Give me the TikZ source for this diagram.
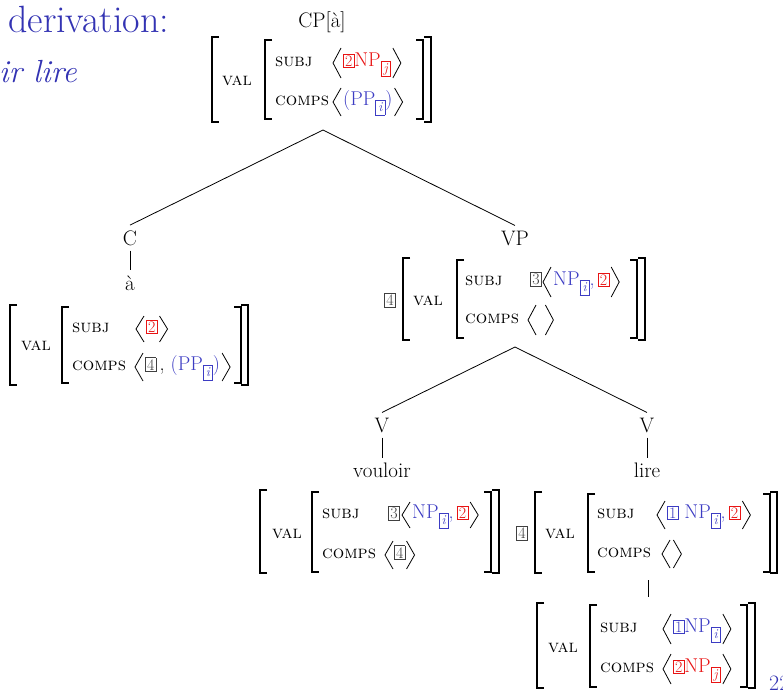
\documentclass[tikz,border=0pt]{standalone}
\usepackage{xcolor}
\definecolor{avmred}{RGB}{232,20,20}
\definecolor{avmblue}{RGB}{60,60,195}
\definecolor{slideblue}{RGB}{51,51,179}
\newcommand\tg[2]{{\setlength\fboxsep{1.4pt}\setlength\fboxrule{0.5pt}\fcolorbox{#1}{white}{\color{#1}\fontsize{16}{16}\selectfont #2}}}
\newcommand\sbx[2]{\raisebox{-6pt}{\fontsize{13.5}{13.5}\selectfont\setlength\fboxsep{1.2pt}\setlength\fboxrule{0.5pt}\fcolorbox{#1}{white}{\color{#1}\makebox[6.5pt]{\itshape #2}\vphantom{jl}}}}
\newcommand\LB[3]{\draw[brk] (#1+7,#2) -- (#1,#2) -- (#1,#3) -- (#1+7,#3);}
\newcommand\RB[3]{\draw[brk] (#1-7,#2) -- (#1,#2) -- (#1,#3) -- (#1-7,#3);}
% name, x, baseline, half height, gap, content
\newcommand\SEQ[6]{%
  \draw[ang] (#2+8,#3-3-#4) -- (#2,#3-3) -- (#2+8,#3-3+#4);
  \node[cont,anchor=base west] (#1) at (#2+8+#5,#3) {#6};
  \draw[ang] ([xshift=#5pt]#1.base east) ++(0,-3-#4) -- ++(8,#4) -- ++(-8,#4);
}
\begin{document}
\begin{tikzpicture}[x=1pt,y=-1pt,
  brk/.style={line width=1.5pt,line cap=butt,line join=miter},
  ang/.style={line width=0.8pt,line join=miter},
  tree/.style={line width=0.8pt},
  cont/.style={inner sep=0pt,font=\fontsize{20}{20}\selectfont},
  lab/.style={inner sep=0pt,font=\fontsize{21}{21}\selectfont},
  feat/.style={inner sep=0pt,anchor=base west,font=\fontsize{18}{18}\selectfont\scshape},
  tagn/.style={inner sep=0pt}]
\useasboundingbox (0,0) rectangle (783,691);
\clip (0,0) rectangle (783,691);
% slide fragments
\node[inner sep=0pt,anchor=base west,text=slideblue,font=\fontsize{38}{38}\selectfont] (title) at (8,32) {derivation:};
\node[inner sep=0pt,anchor=base east,text=slideblue,font=\fontsize{32}{32}\selectfont\itshape] (sub) at (77,82) {ir lire};
\node[inner sep=0pt,anchor=north west,text=slideblue,font=\fontsize{22}{22}\selectfont] (pg) at (769,676) {22};
% ---------- CP ----------
\node[lab,anchor=base] (CP) at (322,27) {CP[à]};
\LB{212}{37}{122}\RB{431}{37}{122}
\node[feat] (v1) at (222,85) {val};
\LB{265}{40}{119}\RB{423}{40}{119}
\node[feat] (s1) at (275,66) {subj};
\node[feat] (c1) at (275,105) {comps};
\SEQ{s1c}{333}{66}{15}{2}{\color{avmred}\tg{avmred}{2}NP\sbx{avmred}{j}}
\SEQ{c1c}{333}{105}{14}{2}{\color{avmblue}(PP\sbx{avmblue}{i})}
\coordinate (cpb) at (323,130);
% ---------- C ----------
\node[lab,anchor=base,inner sep=5pt] (C) at (130,245) {C};
\node[lab,anchor=base,inner sep=5pt] (a) at (130,290) {à};
\draw[tree] (cpb) -- (C.north);
\draw[tree] (C.south) -- (a.north);
\LB{10}{305}{385}\RB{248}{305}{385}
\node[feat] (v2) at (21,350) {val};
\LB{62}{307}{383}\RB{241}{307}{383}
\node[feat] (s2) at (72,332) {subj};
\node[feat] (c2) at (72,370) {comps};
\SEQ{s2c}{136}{332}{13}{2}{\tg{avmred}{2}}
\SEQ{c2c}{135}{370}{14}{2}{\tg{black!75}{4}\,,\ {\color{avmblue}(PP\sbx{avmblue}{i})}}
% ---------- VP ----------
\node[lab,anchor=base,inner sep=5pt] (VP) at (515,245) {VP};
\draw[tree] (cpb) -- (VP.north);
\node[tagn] (t4a) at (390,300) {\tg{black!75}{4}};
\LB{403}{258}{340}\RB{645}{258}{340}
\node[feat] (v3) at (413,305) {val};
\LB{457}{260}{338}\RB{637}{260}{338}
\node[feat] (s3) at (465,285) {subj};
\node[feat] (c3) at (465,323) {comps};
\node[tagn] (t3a) at (536,279) {\tg{black!75}{3}};
\SEQ{s3c}{543}{285}{15}{2}{{\color{avmblue}NP\sbx{avmblue}{i},}\,\tg{avmred}{2}}
\SEQ{c3c}{528}{323}{15}{0}{\rule{9pt}{0pt}}
\coordinate (vpb) at (515,347);
% ---------- V vouloir ----------
\node[lab,anchor=base,inner sep=5pt] (V1) at (382,432) {V};
\node[lab,anchor=base,inner sep=4pt] (w1) at (382,477) {vouloir};
\draw[tree] (vpb) -- (V1.north);
\draw[tree] (V1.south) -- (w1.north);
\LB{260}{490}{573}\RB{499}{490}{573}
\node[feat] (v4) at (272,538) {val};
\LB{312}{492}{572}\RB{491}{492}{572}
\node[feat] (s4) at (322,518) {subj};
\node[feat] (c4) at (322,558) {comps};
\node[tagn] (t3b) at (394,513) {\tg{black!75}{3}};
\SEQ{s4c}{402}{518}{13}{2}{{\color{avmblue}NP\sbx{avmblue}{i},}\,\tg{avmred}{2}}
\SEQ{c4c}{385}{558}{14}{1}{\tg{black!75}{4}}
\node[tagn] (t4b) at (522,533) {\tg{black!75}{4}};
% ---------- V lire ----------
\node[lab,anchor=base,inner sep=5pt] (V2) at (647,432) {V};
\node[lab,anchor=base,inner sep=4pt] (w2) at (647,477) {lire};
\draw[tree] (vpb) -- (V2.north);
\draw[tree] (V2.south) -- (w2.north);
\LB{535}{492}{573}\RB{777}{492}{573}
\node[feat] (v5) at (545,538) {val};
\LB{588}{494}{572}\RB{770}{494}{572}
\node[feat] (s5) at (597,518) {subj};
\node[feat] (c5) at (597,557) {comps};
\SEQ{s5c}{657}{518}{14}{2}{\tg{avmblue}{1}\ {\color{avmblue}NP\sbx{avmblue}{i},}\,\tg{avmred}{2}}
\SEQ{c5c}{662}{557}{14}{0}{\rule{3pt}{0pt}}
\coordinate (lt) at (648,580);
\coordinate (lb) at (648,597);
\draw[tree] (lt) -- (lb);
% ---------- bottom ----------
\LB{537}{603}{688}\RB{755}{603}{688}
\node[feat] (v6) at (548,652) {val};
\LB{590}{605}{687}\RB{747}{605}{687}
\node[feat] (s6) at (600,632) {subj};
\node[feat] (c6) at (600,672) {comps};
\SEQ{s6c}{663}{632}{15}{2}{\tg{avmblue}{1}{\color{avmblue}NP\sbx{avmblue}{i}}}
\SEQ{c6c}{663}{672}{15}{2}{\tg{avmred}{2}{\color{avmred}NP\sbx{avmred}{j}}}
\end{tikzpicture}
\end{document}
